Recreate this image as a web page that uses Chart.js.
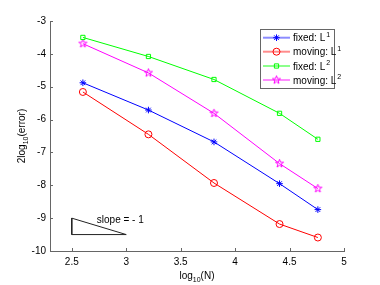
<!DOCTYPE html>
<html><head><meta charset="utf-8">
<script src="https://cdn.jsdelivr.net/npm/chart.js@4"></script>
<style>html,body{margin:0;padding:0;background:#fff}#c{display:block}</style>
</head><body>
<canvas id="c" width="380" height="285"></canvas>
<script>
const logN = [2.602, 3.204, 3.806, 4.408, 4.76];
const fixedL1 = [-4.88, -5.71, -6.68, -7.95, -8.74];
const movingL1 = [-5.16, -6.45, -7.93, -9.18, -9.59];
const fixedL2 = [-3.50, -4.08, -4.78, -5.81, -6.60];
const movingL2 = [-3.69, -4.58, -5.81, -7.34, -8.10];
const xTicks = [2.5, 3, 3.5, 4, 4.5, 5];
const yTicks = [-10, -9, -8, -7, -6, -5, -4, -3];
const slopeX = [2.5, 2.5, 3, 2.5];
const slopeY = [-9, -9.5, -9.5, -9];
const seriesNames = ['fixed: L', 'moving: L', 'fixed: L', 'moving: L'];
const seriesSup = ['1', '1', '2', '2'];

const FONT = '"Liberation Sans", Arial, sans-serif';

function makePentagram(color, r) {
  const s = Math.ceil(2 * r + 4);
  const c = document.createElement('canvas');
  c.width = s; c.height = s;
  const g = c.getContext('2d');
  g.strokeStyle = color; g.lineWidth = 1;
  g.beginPath();
  for (let i = 0; i < 10; i++) {
    const rad = i % 2 === 0 ? r : r * 0.4;
    const a = -Math.PI / 2 + i * Math.PI / 5;
    const px = s / 2 + rad * Math.cos(a), py = s / 2 + rad * Math.sin(a);
    if (i === 0) g.moveTo(px, py); else g.lineTo(px, py);
  }
  g.closePath(); g.stroke();
  return c;
}
const penta = makePentagram('#ff00ff', 4.3);

const pts = (xs, ys) => xs.map((x, i) => ({x, y: ys[i]}));
const colors = ['#0000ff', '#ff0000', '#00ff00', '#ff00ff'];
const styles = ['star', 'circle', 'rect', penta];
const radii = [3.3, 3.5, 3, 4];
const vals = [fixedL1, movingL1, fixedL2, movingL2];

const datasets = vals.map((v, i) => ({
  data: pts(logN, v),
  borderColor: colors[i],
  backgroundColor: 'rgba(0,0,0,0)',
  pointBorderColor: colors[i],
  pointBackgroundColor: 'rgba(0,0,0,0)',
  pointStyle: styles[i],
  pointRadius: radii[i],
  pointBorderWidth: 1,
  borderWidth: 1,
  fill: false,
  tension: 0
}));
datasets.push({
  data: pts(slopeX, slopeY),
  borderColor: '#222',
  backgroundColor: 'rgba(0,0,0,0)',
  borderWidth: 1,
  pointRadius: 0,
  fill: false,
  tension: 0
});

const extras = {
  id: 'extras',
  afterDraw(chart) {
    const ctx = chart.ctx;
    const xs = chart.scales.x, ys = chart.scales.y;
    const a = chart.chartArea;
    ctx.save();
    // inward ticks
    ctx.strokeStyle = '#666'; ctx.lineWidth = 1;
    ctx.beginPath();
    xTicks.forEach(v => {
      const px = Math.round(xs.getPixelForValue(v)) + 0.5;
      ctx.moveTo(px, a.bottom); ctx.lineTo(px, a.bottom - 3);
    });
    yTicks.forEach(v => {
      const py = Math.round(ys.getPixelForValue(v)) + 0.5;
      ctx.moveTo(a.left, py); ctx.lineTo(a.left + 3, py);
    });
    ctx.stroke();

    // slope text
    ctx.fillStyle = '#000';
    ctx.font = '10px ' + FONT;
    ctx.textBaseline = 'middle'; ctx.textAlign = 'left';
    ctx.fillText('slope = - 1', xs.getPixelForValue(2.73), ys.getPixelForValue(-9.07));

    // x title
    ctx.textBaseline = 'alphabetic';
    const xt1 = 'log', xt2 = '10', xt3 = '(N)';
    ctx.font = '10px ' + FONT; const w1 = ctx.measureText(xt1).width, w3 = ctx.measureText(xt3).width;
    ctx.font = '7px ' + FONT; const w2 = ctx.measureText(xt2).width;
    let sx = (a.left + a.right) / 2 - (w1 + w2 + w3) / 2;
    const by = 279;
    ctx.font = '10px ' + FONT; ctx.fillText(xt1, sx, by);
    ctx.font = '7px ' + FONT; ctx.fillText(xt2, sx + w1, by + 3);
    ctx.font = '10px ' + FONT; ctx.fillText(xt3, sx + w1 + w2, by);

    // y title
    ctx.save();
    ctx.translate(25, (a.top + a.bottom) / 2);
    ctx.rotate(-Math.PI / 2);
    const y1 = '2log', y2 = '10', y3 = '(error)';
    ctx.font = '10px ' + FONT; const v1 = ctx.measureText(y1).width, v3 = ctx.measureText(y3).width;
    ctx.font = '7px ' + FONT; const v2 = ctx.measureText(y2).width;
    let sy = -(v1 + v2 + v3) / 2;
    ctx.font = '10px ' + FONT; ctx.fillText(y1, sy, 0);
    ctx.font = '7px ' + FONT; ctx.fillText(y2, sy + v1, 3);
    ctx.font = '10px ' + FONT; ctx.fillText(y3, sy + v1 + v2, 0);
    ctx.restore();

    // legend
    const lx = 260.5, ly = 29.5, lw = 74, lh = 59;
    ctx.fillStyle = '#fff';
    ctx.fillRect(lx, ly, lw, lh);
    ctx.strokeStyle = '#666'; ctx.lineWidth = 1;
    ctx.strokeRect(lx, ly, lw, lh);
    const rowsY = [37.7, 51.7, 66, 80];
    chart.data.datasets.slice(0, 4).forEach((ds, i) => {
      const yy = rowsY[i];
      ctx.globalAlpha = 0.45;
      ctx.strokeStyle = colors[i]; ctx.lineWidth = 2;
      ctx.beginPath(); ctx.moveTo(263, yy); ctx.lineTo(290, yy); ctx.stroke();
      ctx.globalAlpha = 1;
      ctx.lineWidth = 1;
      ctx.strokeStyle = colors[i];
      ctx.fillStyle = 'rgba(0,0,0,0)';
      Chart.helpers.drawPoint(ctx, {pointStyle: styles[i], radius: radii[i], borderWidth: 1, rotation: 0}, 276.5, yy);
      ctx.fillStyle = '#000';
      ctx.textBaseline = 'middle';
      ctx.font = '10px ' + FONT;
      const t = seriesNames[i];
      ctx.fillText(t, 293, yy + 1);
      const tw = ctx.measureText(t).width;
      ctx.font = '7px ' + FONT;
      ctx.fillText(seriesSup[i], 293 + tw + 1, yy - 3);
    });
    ctx.restore();
  }
};

new Chart(document.getElementById('c'), {
  type: 'line',
  data: { datasets },
  plugins: [extras],
  options: {
    responsive: false,
    animation: false,
    devicePixelRatio: 1,
    layout: { padding: { top: 21, right: 36, left: 0, bottom: 0 } },
    plugins: { legend: { display: false }, tooltip: { enabled: false }, title: { display: false } },
    scales: {
      x: {
        type: 'linear', min: 2.3, max: 5,
        afterBuildTicks: s => { s.ticks = xTicks.map(v => ({ value: v })); },
        afterFit: s => { s.height = 34; },
        grid: { display: true, drawOnChartArea: false, drawTicks: false },
        border: { display: true, color: '#666' },
        ticks: { color: '#000', font: { family: FONT, size: 10 }, padding: 5, maxRotation: 0, autoSkip: false,
          callback: v => String(v) }
      },
      y: {
        type: 'linear', min: -10, max: -3,
        afterBuildTicks: s => { s.ticks = yTicks.map(v => ({ value: v })); },
        afterFit: s => { s.width = 50; },
        grid: { display: true, drawOnChartArea: false, drawTicks: false },
        border: { display: true, color: '#666' },
        ticks: { color: '#000', font: { family: FONT, size: 10 }, padding: 4, autoSkip: false,
          callback: v => String(v) }
      }
    }
  }
});
</script>
</body></html>
